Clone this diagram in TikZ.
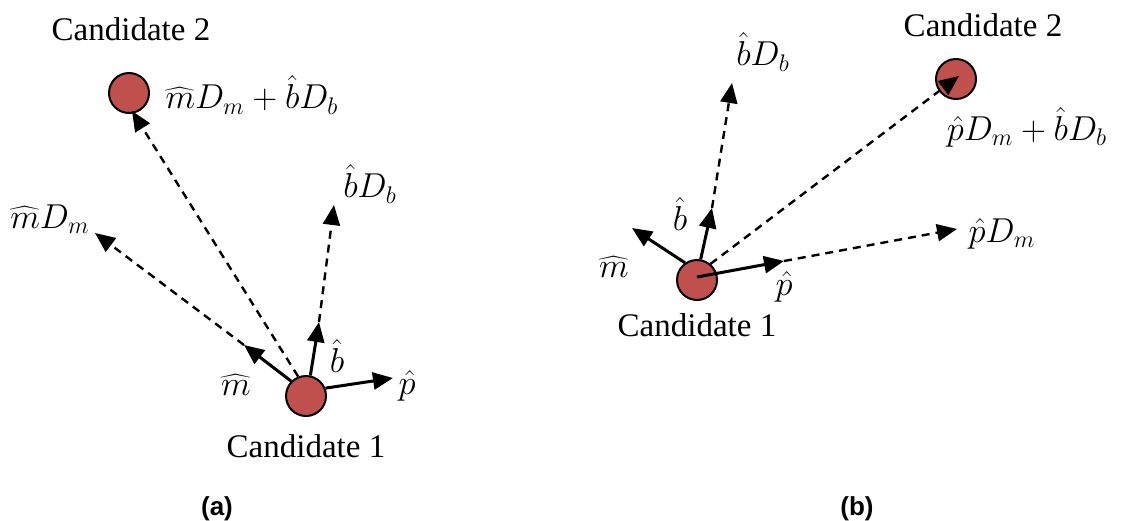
\documentclass[tikz,border=0pt]{standalone}
\usepackage{fontspec}
\setmainfont{Liberation Serif}
\setsansfont{Liberation Sans}
\usetikzlibrary{arrows.meta}
\definecolor{candred}{HTML}{C0504D}
\begin{document}
\begin{tikzpicture}[x=0.5pt,y=-0.5pt,
  cand/.style={circle,draw=black,line width=1pt,fill=candred,minimum size=20pt,inner sep=0pt},
  txt/.style={font=\fontsize{16.5}{20}\selectfont,inner sep=0pt},
  mtxt/.style={font=\fontsize{17.5}{20}\selectfont,inner sep=0pt},
  vec/.style={line width=1.5pt,-{Triangle[length=10pt,width=8.5pt]}},
  dvec/.style={line width=1.2pt,dash pattern=on 4pt off 3pt,-{Triangle[length=10pt,width=8.5pt]}},
  captxt/.style={font=\sffamily\bfseries\fontsize{13}{15}\selectfont,inner sep=0pt}
]
\useasboundingbox (0,0) rectangle (1124,520);

% ---------- (a) ----------
\node[cand] (c1a) at (306,396) {};
\node[cand] (c2a) at (129,93) {};
\coordinate (ma) at (244,345);
\coordinate (ba) at (319,322);
\coordinate (pa) at (393,378);
\coordinate (mDa) at (95,233);
\coordinate (bDa) at (334,205);
\coordinate (c2tipa) at (132,111);

\draw[dvec] (ma) -- (mDa);
\draw[dvec] (ba) -- (bDa);
\draw[dvec] (c1a.112) -- (c2tipa);
\draw[vec] (c1a.135) -- (ma);
\draw[vec] (c1a.78) -- (ba);
\draw[vec] (c1a.22) -- (pa);

\node[txt] (t2a) at (131,29) {Candidate 2};
\node[txt] (t1a) at (306,446) {Candidate 1};
\node[mtxt] (lsuma) at (252,95) {$\widehat{m}D_m+\hat{b}D_b$};
\node[mtxt] (lmDa) at (50,219) {$\widehat{m}D_m$};
\node[mtxt] (lbDa) at (370,184) {$\hat{b}D_b$};
\node[mtxt] (lma) at (236,385) {$\widehat{m}$};
\node[mtxt] (lba) at (337,356) {$\hat{b}$};
\node[mtxt] (lpa) at (407,386) {$\hat{p}$};

% ---------- (b) ----------
\node[cand] (c1b) at (697,280) {};
\node[cand] (c2b) at (956,79) {};
\coordinate (c1bc) at (697,277);
\coordinate (mb) at (632,228);
\coordinate (bb) at (712,208);
\coordinate (pb) at (784,261);
\coordinate (bDb) at (732,83);
\coordinate (pDb) at (957,229);
\coordinate (c2tipb) at (959,76);

\draw[dvec] (bb) -- (bDb);
\draw[dvec] (pb) -- (pDb);
\draw[dvec] (c1b.50) -- (c2tipb);
\draw[vec] (c1b.125) -- (mb);
\draw[vec] (c1b.80) -- (bb);
\draw[vec] (c1bc) -- (pb);

\node[txt] (t2b) at (983,25) {Candidate 2};
\node[txt] (t1b) at (697,325) {Candidate 1};
\node[mtxt] (lsumb) at (1027,127) {$\hat{p}D_m+\hat{b}D_b$};
\node[mtxt] (lbDb) at (763,52) {$\hat{b}D_b$};
\node[mtxt] (lpDb) at (1002,234) {$\hat{p}D_m$};
\node[mtxt] (lmb) at (614,267) {$\widehat{m}$};
\node[mtxt] (lbb) at (680,214) {$\hat{b}$};
\node[mtxt] (lpb) at (784,287) {$\hat{p}$};

% captions
\node[captxt] (capa) at (217,509) {(a)};
\node[captxt] (capb) at (857,509) {(b)};
\end{tikzpicture}
\end{document}
